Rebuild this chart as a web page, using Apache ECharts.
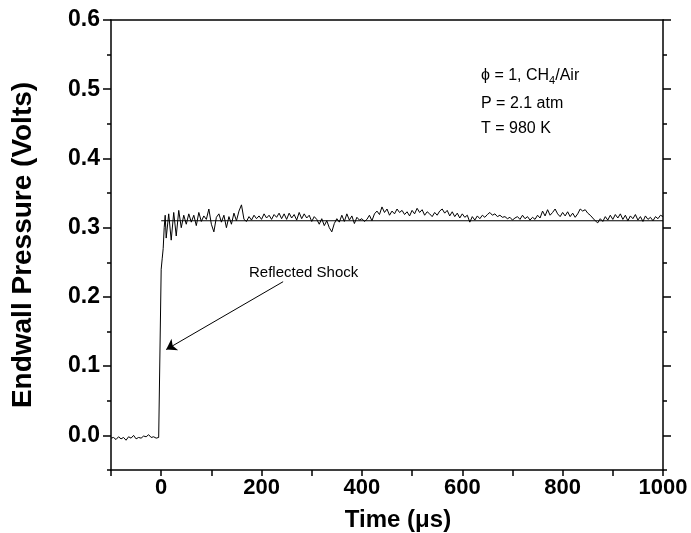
<!DOCTYPE html>
<html><head><meta charset="utf-8">
<script src="https://cdn.jsdelivr.net/npm/echarts@6/dist/echarts.min.js"></script>
<style>html,body{margin:0;padding:0;background:#fff}#c{width:691px;height:533px}</style>
</head><body><div id="c"></div>
<script>
// Baseline before the shock (time in µs, pressure in V)
const baseTimes = [-100,-95,-90,-85,-80,-75,-70,-65,-60,-55,-50,-45,-40,-35,-30,-25,-20,-15,-10,-5,-2];
const baseValues = [-0.004,-0.003,-0.006,-0.002,-0.005,-0.003,-0.007,-0.002,-0.004,0.000,-0.005,-0.003,-0.004,-0.001,-0.002,0.001,-0.003,-0.002,-0.004,-0.003,-0.003];
// Shock rise
const riseTimes = [0, 2, 4, 6, 8];
const riseValues = [0.24, 0.255, 0.27, 0.30, 0.318];
// After shock, every 5 µs from 10 to 1000
const postStart = 10, postStep = 5;
const postValues = [
0.285,0.320,0.282,0.322,0.288,0.325,0.300,0.318,0.305,0.320,0.308,0.318,0.303,0.322,0.309,0.317,0.312,0.327,0.305,0.294,
0.315,0.320,0.308,0.318,0.300,0.316,0.305,0.321,0.310,0.324,0.333,0.312,0.309,0.316,0.311,0.318,0.313,0.317,0.312,0.320,
0.314,0.318,0.312,0.319,0.315,0.321,0.313,0.320,0.312,0.321,0.314,0.319,0.311,0.322,0.313,0.320,0.314,0.318,0.309,0.316,
0.312,0.305,0.313,0.303,0.310,0.300,0.294,0.306,0.313,0.308,0.318,0.309,0.320,0.311,0.317,0.306,0.315,0.311,0.313,0.309,
0.312,0.318,0.310,0.320,0.324,0.319,0.330,0.322,0.327,0.318,0.324,0.320,0.327,0.322,0.325,0.319,0.323,0.317,0.325,0.320,
0.328,0.322,0.326,0.318,0.323,0.320,0.316,0.322,0.318,0.324,0.327,0.321,0.325,0.317,0.323,0.316,0.321,0.314,0.320,0.315,
0.318,0.308,0.316,0.311,0.317,0.313,0.318,0.315,0.319,0.322,0.318,0.320,0.316,0.318,0.315,0.316,0.313,0.315,0.311,0.314,
0.316,0.312,0.318,0.313,0.316,0.311,0.315,0.312,0.318,0.314,0.324,0.317,0.326,0.318,0.322,0.327,0.320,0.316,0.322,0.317,
0.323,0.316,0.321,0.315,0.320,0.327,0.324,0.326,0.321,0.318,0.314,0.310,0.307,0.313,0.309,0.316,0.311,0.318,0.312,0.319,
0.314,0.320,0.312,0.318,0.310,0.317,0.313,0.319,0.311,0.316,0.309,0.317,0.312,0.315,0.310,0.316,0.313,0.318,0.316
];
// Fitted plateau level
const plateauTimes = [0, 1000];
const plateauValues = [0.31, 0.31];
// Arrow annotation (data coords)
const arrowFrom = [243, 0.222];
const arrowTo = [10, 0.124];

const xTicks = [0,200,400,600,800,1000];
const yTicks = [0.0,0.1,0.2,0.3,0.4,0.5,0.6];

const trace = [];
baseTimes.forEach((t,i)=>trace.push([t, baseValues[i]]));
riseTimes.forEach((t,i)=>trace.push([t, riseValues[i]]));
postValues.forEach((v,i)=>trace.push([postStart + i*postStep, v]));
const plateau = plateauTimes.map((t,i)=>[t, plateauValues[i]]);

const FONT = '"Liberation Sans", Arial, Helvetica, sans-serif';
const lineStyle = {color:'#000', width:1.5};
const xMin=-100, xMax=1000, yMin=-0.05, yMax=0.6;

function xAx(pos, labels, ticks){
  return {type:'value', position:pos, min:xMin, max:xMax, interval:100,
    axisLine:{show:true, onZero:false, lineStyle}, splitLine:{show:false},
    axisTick:{show:ticks, inside:false, length:6, lineStyle},
    axisLabel:{show:labels, color:'#000', fontFamily:FONT, fontWeight:'bold', fontSize:22, margin:7,
      formatter:v=> xTicks.indexOf(Math.round(v))>=0 ? String(Math.round(v)) : ''},
    name: labels ? 'Time (\u03bcs)' : '', nameLocation:'middle', nameGap:38,
    nameTextStyle:{color:'#000', fontFamily:FONT, fontWeight:'bold', fontSize:24, padding:[0,0,0,22]}};
}
function yAx(pos, labels){
  return {type:'value', position:pos, min:yMin, max:yMax, interval:0.05,
    axisLine:{show:true, onZero:false, lineStyle}, splitLine:{show:false},
    axisTick:{show:true, inside:false, length:4, lineStyle},
    axisLabel:{show:labels, color:'#000', fontFamily:FONT, fontWeight:'bold', fontSize:23, margin:11,
      formatter:v=>{const k=Math.round(v*10); return Math.abs(v*10-k)<1e-6 && yTicks.indexOf(k/10)>=0 ? (k/10).toFixed(1) : '';}},
    name: labels ? 'Endwall Pressure (Volts)' : '', nameLocation:'middle', nameGap:74,
    nameTextStyle:{color:'#000', fontFamily:FONT, fontWeight:'bold', fontSize:28}};
}
// overlay axes that draw the longer major ticks at the labelled values
function yMajor(pos){
  return {type:'value', position:pos, min:yMin, max:yMax, interval:0.05,
    axisLine:{show:false, onZero:false}, splitLine:{show:false}, axisLabel:{show:false},
    axisTick:{show:true, inside:false, length:8, lineStyle, customValues:yTicks}};
}

const chart = echarts.init(document.getElementById('c'), null, {renderer:'canvas'});
chart.setOption({
  animation:false,
  backgroundColor:'#fff',
  grid:{left:111, right:28, top:20, bottom:63, containLabel:false, outerBoundsMode:'none'},
  xAxis:[xAx('bottom', true, true), xAx('top', false, false)],
  yAxis:[yAx('left', true), yAx('right', false), yMajor('left'), yMajor('right')],
  series:[
    {type:'line', data:trace, xAxisIndex:0, yAxisIndex:0, showSymbol:false, symbol:'none',
      lineStyle:{color:'#000', width:1}, z:3,
      markLine:{silent:true, symbol:['none','arrow'], symbolSize:10, label:{show:false},
        lineStyle:{color:'#000', width:1, type:'solid'},
        data:[[{coord:arrowFrom},{coord:arrowTo}]]}},
    {type:'line', data:plateau, xAxisIndex:0, yAxisIndex:0, showSymbol:false, symbol:'none',
      lineStyle:{color:'#000', width:1.2}, z:2}
  ],
  graphic:[
    {type:'text', left:249, top:265, style:{text:'Reflected Shock', font:'15px '+FONT, fill:'#000'}},
    {type:'text', left:481, top:68, style:{text:'\u03d5 = 1, CH{s|4}/Air', font:'16px '+FONT, fill:'#000',
      rich:{s:{fontSize:11, verticalAlign:'bottom', padding:[10,0,0,0], fontFamily:FONT}}}},
    {type:'text', left:481, top:96, style:{text:'P = 2.1 atm', font:'16px '+FONT, fill:'#000'}},
    {type:'text', left:481, top:121, style:{text:'T = 980 K', font:'16px '+FONT, fill:'#000'}}
  ]
});
</script></body></html>
